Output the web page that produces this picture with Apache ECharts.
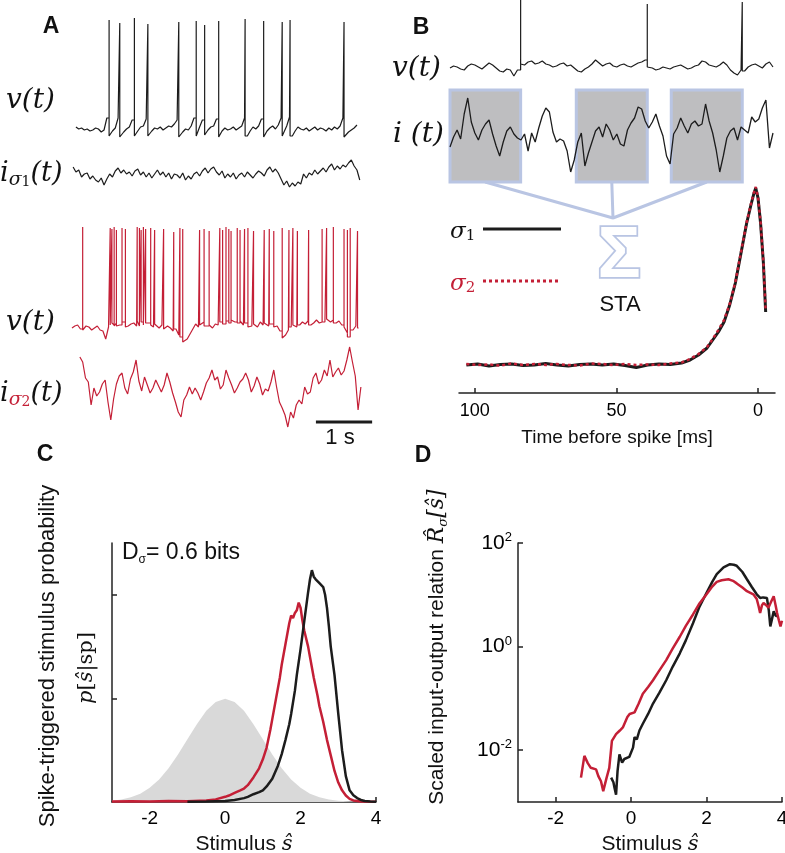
<!DOCTYPE html>
<html><head><meta charset="utf-8">
<script src="https://cdn.jsdelivr.net/npm/echarts@6/dist/echarts.min.js"></script>
<style>html,body{margin:0;padding:0;background:#fff}#c{width:785px;height:853px}</style>
</head><body><div id="c"></div>
<script>
const SANS = 'Liberation Sans, Arial, sans-serif';
const SERIF = 'DejaVu Serif, serif';
const BLACK = '#1c1c1c';
const RED = '#c41f36';
const BOXBLUE = '#b9c5e3';

// ---------- Panel A (time in s, sampled every 0.05 s) ----------
const aDt = 0.05;
const aV1Start = 0.07;
const aV1 = [
-67,-69,-68,-70,-69,-71,-70,-68,-69,-72,
-70,-58,-76,-71,-68,-58,-77,-72,-69,-67,
-60,-76,-71,-67,-66,-59,-76,-71,-68,-69,
-67,-70,-68,-66,-67,-64,-60,-77,-72,-69,
-70,-66,-58,-76,-67,-60,-75,-70,-67,-66,
-59,-77,-71,-68,-70,-69,-67,-70,-68,-66,
-58,-76,-71,-67,-69,-66,-59,-77,-71,-68,
-66,-69,-65,-58,-76,-66,-57,-76,-71,-67,
-69,-70,-68,-71,-69,-67,-70,-68,-69,-71,
-68,-70,-67,-69,-66,-58,-77,-72,-70,-68,
-65];
const aV1SpikeT = [0.66,0.85,1.11,1.35,1.90,2.21,2.36,2.61,3.08,3.41,3.74,3.88,4.84];
const aV1SpikePeak = [40,37,42,36,38,39,35,39,41,39,38,40,38];

const aI1Start = 0.02;
const aI1 = [
8,3,5,-2,1,2,-4,-1,-5,-7,-3,
-10,-4,1,-2,4,7,2,5,1,3,
-1,4,6,0,3,-2,2,-3,1,5,
0,3,-2,2,-4,1,0,-3,2,-5,
-1,-4,1,3,-1,4,7,2,6,8,
3,0,4,-3,1,-2,2,-4,0,2,
-2,3,0,-3,1,4,2,-1,5,8,
3,6,2,-4,-10,-6,-12,-8,-11,-7,
-9,1,-3,2,0,5,1,4,7,3,
8,11,5,9,6,10,8,12,15,9,
5,-5];

const aV2Start = 0;
const aV2 = [
-63,-61,-60,-64,-65,-61,-62,-65,-63,-61,
-65,-66,-74,-62,-60,-58,-61,-60,-57,-62,
-61,-59,-58,-61,-56,-57,-60,-58,-60,-62,
-59,-63,-60,-64,-61,-63,-66,-64,-70,-72,
-77,-74,-69,-64,-59,-62,-60,-57,-61,-60,
-63,-59,-60,-57,-59,-56,-58,-55,-57,-58,
-56,-60,-58,-62,-61,-59,-62,-57,-60,-58,
-61,-59,-62,-61,-66,-73,-70,-65,-62,-60,
-62,-60,-57,-59,-56,-60,-58,-55,-58,-57,
-57,-54,-57,-55,-58,-56,-60,-62,-68,-72,
-65,-61,-63];
const aV2SpikeT = [0.19,0.68,0.71,0.75,0.79,0.89,0.95,1.16,1.20,1.23,1.27,1.31,1.40,1.47,1.63,1.81,1.92,1.97,2.27,2.35,2.44,2.63,2.68,2.74,2.79,2.83,2.94,2.99,3.07,3.13,3.23,3.42,3.51,3.59,3.74,3.80,3.86,3.93,4.01,4.21,4.45,4.53,4.65,4.84,4.90,4.95,5.08];
const aV2SpikePeak = [38,37,36,38,35,37,36,38,37,35,38,36,37,35,36,33,37,36,35,36,34,37,35,38,36,34,37,35,36,37,34,35,36,34,37,36,35,37,34,35,36,37,38,36,35,37,34];

const aI2Start = 0.14;
const aI2 = [
33,28,12,8,-15,2,-6,-2,6,10,
-12,-30,-9,6,14,17,2,-4,11,18,
30,9,-1,13,5,-3,2,10,4,-2,
5,17,8,-3,-12,-22,-27,-10,-5,3,
-4,2,-3,-10,-2,7,12,20,10,13,
1,5,20,12,5,-3,2,8,11,17,
10,-2,4,13,6,-5,1,-1,8,20,
3,-12,-18,-25,-37,-22,-28,-15,-10,-14,
3,-4,-2,12,17,6,10,20,14,30,
13,18,22,15,19,30,43,28,14,-20,
3];
const scaleBar = [[4.34,-32],[5.34,-32]];   // 1 s

// ---------- Panel B (time in ms, sampled every 5 ms) ----------
const bDt = 5;
const bV = [
-48,-46,-47,-49,-50,-46,-44,-45,-47,-49,
-46,-43,-45,-48,-51,-52,-49,-50,-56,-50,
-44,-45,-42,-41,-44,-43,-41,-44,-45,-47,
-46,-44,-43,-46,-45,-48,-51,-52,-49,-47,
-44,-40,-43,-46,-44,-43,-46,-47,-45,-44,
-46,-47,-45,-43,-42,-40,-47,-48,-50,-49,
-47,-48,-49,-47,-46,-45,-47,-49,-48,-46,
-45,-41,-42,-45,-46,-47,-45,-42,-45,-50,
-53,-55,-50,-51,-47,-45,-44,-46,-48,-44,
-42,-47];
const bSpikeT = [99.5,277.9,411.7];
const bSpikePeak = [20,16,18];
const bI = [
-11,-1,6,-3,22,38,14,3,-4,6,
12,16,2,-10,-20,-6,5,9,2,-2,
-4,2,-15,3,-6,8,20,28,24,4,
-6,-3,-5,-15,-36,-24,-6,3,-30,-17,
-6,5,9,-1,12,6,-4,2,-8,-10,
6,13,18,29,27,15,8,14,22,10,
0,-20,-28,2,8,18,10,3,12,15,
10,12,32,15,3,-14,-36,-20,-2,5,
8,-4,9,6,3,19,14,17,28,36,
-12,3];
const staWindow = 100;        // ms averaged before each spike
const sumPoint = [229.6,-82]; // where the windows are summed

const staT  = [103,99,95,91,87,83,79,75,71,67,63,59,55,51,47,43,39,35,31,27,24,21,18,16,14,12,10,8,6,4,2.5,1.5,0.8,0,-0.9,-1.9,-2.7];
const staS1 = [0,1,-1,0.5,1,-0.5,0,1.5,0,-1,0.5,1,0,1,-0.5,-2.5,0,1,0.5,2,5,10,17,25,33,43,60,82,112,142,160,171,177,167,142,102,53];
const staS2 = [1,0,0.5,-0.5,1.5,0,1,0,1,0,-0.5,1.5,1,0,1,0,0.5,0,1.5,2.5,6,11,18,26,35,45,61,83,113,143,161,172,178,168,143,103,54];
const staTicks = [0,50,100];

// ---------- Panel C ----------
const stimTicks = [-2,0,2,4];
const cGray = [[-3,0.005],[-2.75,0.01],[-2.5,0.018],[-2.25,0.032],[-2,0.055],[-1.75,0.087],[-1.5,0.13],[-1.25,0.183],[-1,0.242],[-0.75,0.3],[-0.5,0.352],[-0.25,0.386],[0,0.399],[0.25,0.386],[0.5,0.352],[0.75,0.3],[1,0.242],[1.25,0.183],[1.5,0.13],[1.75,0.087],[2,0.055],[2.25,0.032],[2.5,0.018],[2.75,0.01],[3,0.005],[3.5,0.001],[4,0]];
const cRed = [[-3,0.002],[-2.5,0.003],[-2,0.002],[-1.5,0.004],[-1,0.003],[-0.5,0.006],[-0.25,0.01],[0,0.02],[0.1,0.025],[0.25,0.035],[0.4,0.045],[0.5,0.052],[0.6,0.065],[0.75,0.095],[0.9,0.13],[1,0.165],[1.1,0.21],[1.2,0.28],[1.25,0.32],[1.35,0.4],[1.45,0.48],[1.5,0.53],[1.6,0.61],[1.7,0.69],[1.75,0.72],[1.8,0.71],[1.85,0.73],[1.9,0.74],[1.95,0.77],[2.0,0.75],[2.05,0.7],[2.1,0.66],[2.2,0.6],[2.25,0.56],[2.35,0.48],[2.45,0.41],[2.5,0.37],[2.6,0.31],[2.7,0.24],[2.8,0.18],[2.9,0.12],[3.0,0.075],[3.1,0.045],[3.2,0.025],[3.3,0.012],[3.4,0.006],[3.6,0.002],[4,0.001]];
const cBlack = [[-1,0.001],[-0.5,0.002],[0,0.004],[0.25,0.008],[0.5,0.015],[0.6,0.02],[0.75,0.03],[0.9,0.038],[1,0.045],[1.1,0.06],[1.25,0.09],[1.4,0.14],[1.5,0.185],[1.6,0.24],[1.7,0.3],[1.75,0.34],[1.85,0.43],[1.9,0.49],[2.0,0.59],[2.1,0.7],[2.2,0.81],[2.25,0.86],[2.3,0.895],[2.35,0.87],[2.4,0.86],[2.5,0.845],[2.6,0.83],[2.65,0.8],[2.7,0.75],[2.75,0.68],[2.8,0.6],[2.9,0.49],[3.0,0.34],[3.1,0.2],[3.2,0.1],[3.3,0.045],[3.4,0.026],[3.5,0.015],[3.6,0.008],[3.7,0.004],[3.85,0.002],[4,0.001]];
const cYTicks = [0.4,0.8];

// ---------- Panel D (log10 of R) ----------
const dRedLog = [[-1.33,-2.53],[-1.24,-2.11],[-1.15,-2.25],[-1.07,-2.34],[-0.93,-2.37],[-0.87,-2.5],[-0.84,-2.47],[-0.8,-2.6],[-0.74,-2.79],[-0.65,-2.53],[-0.58,-2.34],[-0.51,-1.82],[-0.4,-1.69],[-0.3,-1.62],[-0.22,-1.56],[-0.1,-1.36],[-0.04,-1.3],[0.09,-1.27],[0.2,-1.1],[0.31,-0.91],[0.45,-0.78],[0.58,-0.65],[0.75,-0.46],[0.93,-0.26],[1.1,-0.04],[1.29,0.19],[1.45,0.4],[1.64,0.62],[1.8,0.82],[2.0,1.01],[2.15,1.16],[2.27,1.25],[2.4,1.28],[2.58,1.30],[2.7,1.27],[2.8,1.22],[2.95,1.14],[3.07,1.07],[3.24,1.01],[3.33,0.92],[3.38,0.78],[3.42,0.65],[3.47,0.8],[3.51,0.84],[3.58,0.8],[3.64,0.75],[3.72,0.88],[3.78,0.97],[3.83,0.8],[3.87,0.65],[3.92,0.5],[3.96,0.39],[4.0,0.5]];
const dBlackLog = [[-0.53,-2.53],[-0.47,-2.62],[-0.44,-2.73],[-0.4,-2.86],[-0.36,-2.4],[-0.31,-2.08],[-0.24,-2.24],[-0.18,-2.17],[-0.13,-2.14],[-0.05,-2.13],[0,-2.11],[0.05,-1.95],[0.09,-1.75],[0.15,-1.79],[0.22,-1.62],[0.31,-1.49],[0.45,-1.3],[0.58,-1.1],[0.75,-0.89],[0.93,-0.65],[1.1,-0.39],[1.29,-0.13],[1.45,0.12],[1.64,0.45],[1.8,0.75],[2.0,1.04],[2.15,1.25],[2.27,1.4],[2.45,1.53],[2.62,1.59],[2.72,1.58],[2.8,1.56],[2.95,1.44],[3.07,1.3],[3.2,1.15],[3.33,1.01],[3.42,0.94],[3.5,0.95],[3.6,0.94],[3.65,0.7],[3.69,0.39],[3.74,0.55],[3.78,0.68],[3.83,0.6],[3.87,0.58]];
const dYTicks = [-2,0,2];

// ---------- helpers ----------
function buildTrace(t0, dt, base, spikeT, spikePeak) {
  const out = [];
  for (let i = 0; i < base.length; i++) {
    const t = t0 + dt * i;
    out.push([t, base[i]]);
    if (spikeT && i < base.length - 1) {
      spikeT.forEach((s, j) => {
        if (s >= t && s < t + dt) out.push([s, base[i]], [s, spikePeak[j]], [s, base[i + 1]]);
      });
    }
  }
  return out;
}
function line(xi, data, color, width, extra) {
  return Object.assign({type:'line', xAxisIndex:xi, yAxisIndex:xi, data, symbol:'none', silent:true,
    lineStyle:{color, width}, itemStyle:{color}}, extra || {});
}
function hx(gi, min, max, extra) { return Object.assign({type:'value', gridIndex:gi, min, max, show:false}, extra||{}); }
const axisLineStyle = {show:true, onZero:false, lineStyle:{color:'#222', width:1.5}};
const tickLabel = {color:'#000', fontFamily:SANS, fontSize:19};

const grids = [
  {left:72, top:10, width:303.5, height:130},
  {left:72, top:150, width:303.5, height:50},
  {left:72, top:215, width:303.5, height:130},
  {left:72, top:340, width:303.5, height:100},
  {left:450, top:0, width:323, height:80},
  {left:450, top:90, width:323, height:92},
  {left:459, top:180, width:316, height:213},
  {left:112, top:543, width:264, height:259},
  {left:518, top:543, width:264, height:259}
].map(g => Object.assign({containLabel:false, outerBoundsMode:'none'}, g));

const stimName = {rich:{a:{fontSize:21, fontFamily:SANS, color:'#111'}, b:{fontSize:21, fontFamily:SERIF, fontStyle:'italic', color:'#111'}}};
const xAxes = [
  hx(0,0,5.4), hx(1,0,5.4), hx(2,0,5.4), hx(3,0,5.4),
  hx(4,0,455), hx(5,0,455),
  {type:'value', gridIndex:6, min:-6, max:105.6, inverse:true, axisLine:axisLineStyle,
   axisTick:{show:true, inside:true, length:5, customValues:staTicks, lineStyle:{color:'#222', width:1.5}},
   axisLabel:{customValues:staTicks, margin:9, fontSize:18, color:'#000', fontFamily:SANS},
   splitLine:{show:false},
   name:'Time before spike [ms]', nameLocation:'middle', nameGap:35,
   nameTextStyle:{color:'#111', fontFamily:SANS, fontSize:19}},
  {type:'value', gridIndex:7, min:-3, max:4, axisLine:axisLineStyle,
   axisTick:{show:true, inside:true, length:5, customValues:stimTicks, lineStyle:{color:'#222', width:1.5}},
   axisLabel:Object.assign({customValues:stimTicks, margin:7}, tickLabel), splitLine:{show:false},
   name:'{a|Stimulus }{b|ŝ}', nameLocation:'middle', nameGap:32, nameTextStyle:stimName},
  {type:'value', gridIndex:8, min:-3, max:4, axisLine:axisLineStyle,
   axisTick:{show:true, inside:true, length:5, customValues:stimTicks, lineStyle:{color:'#222', width:1.5}},
   axisLabel:Object.assign({customValues:stimTicks, margin:7}, tickLabel), splitLine:{show:false},
   name:'{a|Stimulus }{b|ŝ}', nameLocation:'middle', nameGap:32, nameTextStyle:stimName}
];
const yAxes = [
  hx(0,-80,50), hx(1,-25,25), hx(2,-80,50), hx(3,-50,50),
  hx(4,-60,20), hx(5,-46,46), hx(6,-28,185),
  {type:'value', gridIndex:7, min:0, max:1, axisLine:axisLineStyle,
   axisTick:{show:true, inside:true, length:5, customValues:cYTicks, lineStyle:{color:'#222', width:1.5}},
   axisLabel:{show:false}, splitLine:{show:false}},
  {type:'value', gridIndex:8, min:-3, max:2, axisLine:axisLineStyle,
   axisTick:{show:true, inside:true, length:5, customValues:dYTicks, lineStyle:{color:'#222', width:1.5}},
   axisLabel:{customValues:dYTicks, margin:6, formatter: v => '{a|10}{b|' + v + '}',
     rich:{a:{fontSize:21, lineHeight:24, fontFamily:SANS, color:'#000'},
           b:{fontSize:13, lineHeight:13, fontFamily:SANS, color:'#000', verticalAlign:'top'}}},
   splitLine:{show:false}}
];

const series = [
  line(0, buildTrace(aV1Start, aDt, aV1, aV1SpikeT, aV1SpikePeak), BLACK, 1.2),
  line(1, buildTrace(aI1Start, aDt, aI1), BLACK, 1.2),
  line(2, buildTrace(aV2Start, aDt, aV2, aV2SpikeT, aV2SpikePeak), RED, 1.2),
  line(3, buildTrace(aI2Start, aDt, aI2), RED, 1.2),
  line(3, scaleBar, BLACK, 3),
  line(4, buildTrace(0, bDt, bV, bSpikeT, bSpikePeak), BLACK, 1.2),
  line(5, buildTrace(0, bDt, bI), BLACK, 1.3, {z:3,
    markArea:{silent:true, itemStyle:{color:'#bebec0', borderColor:BOXBLUE, borderWidth:3},
      data: bSpikeT.map(s => [{coord:[s - staWindow, -46]}, {coord:[s, 46]}])}}),
  line(5, [[bSpikeT[0]-staWindow/2,-46], sumPoint, [bSpikeT[1]-staWindow/2,-46], sumPoint, [bSpikeT[2]-staWindow/2,-46]],
       BOXBLUE, 3, {clip:false, z:1}),
  line(6, staT.map((t,i)=>[t, staS1[i]]), BLACK, 3),
  line(6, staT.map((t,i)=>[t, staS2[i]]), RED, 2.5, {lineStyle:{color:RED, width:2.5, type:[3,3]}}),
  line(7, cGray, '#d9d9d9', 0, {areaStyle:{color:'#d9d9d9', opacity:1}, lineStyle:{width:0}, z:1}),
  line(7, cRed, RED, 2.5),
  line(7, cBlack, BLACK, 2.5),
  line(8, dBlackLog, BLACK, 2.5),
  line(8, dRedLog, RED, 2.5)
];

function T(x, y, text, font, fill, align, extra) {
  return Object.assign({type:'text', x, y, silent:true, style:{text, font, fill: fill || '#111',
    textAlign: align || 'left', align: align || 'left', textVerticalAlign:'middle', verticalAlign:'middle'}}, extra || {});
}
function R(x, y, text, rich, align, extra) {
  return Object.assign({type:'text', x, y, silent:true, style:{text, rich,
    textAlign: align || 'left', align: align || 'left', textVerticalAlign:'middle', verticalAlign:'middle'}}, extra || {});
}
const mathRich = (subColor) => ({
  m:{fontSize:27, lineHeight:31, fontFamily:SERIF, fontStyle:'italic', fill:'#111', color:'#111'},
  s:{fontSize:19, lineHeight:19, fontFamily:SERIF, fontStyle:'italic', fill:subColor, color:subColor, verticalAlign:'bottom'},
  n:{fontSize:14, lineHeight:14, fontFamily:SERIF, fill:subColor, color:subColor, verticalAlign:'bottom'}
});
const sigRich = (c) => ({
  m:{fontSize:23, lineHeight:24, fontFamily:SERIF, fontStyle:'italic', fill:c, color:c},
  n:{fontSize:15, lineHeight:15, fontFamily:SERIF, fill:c, color:c, verticalAlign:'bottom'}
});
const bold = 'bold 23px ' + SANS;
const mathFont = 'italic 28px ' + SERIF;

const graphics = [
  T(51, 27, 'A', bold, '#111', 'center'),
  T(421, 28, 'B', bold, '#111', 'center'),
  T(45, 455, 'C', bold, '#111', 'center'),
  T(423, 456, 'D', bold, '#111', 'center'),
  T(6, 101, 'v(t)', mathFont),
  R(0, 174, '{m|i}{s|σ}{n|1}{m|(t)}', mathRich('#111')),
  T(6, 323, 'v(t)', mathFont),
  R(0, 394, '{m|i}{s|σ}{n|2}{m|(t)}', mathRich(RED)),
  T(340, 438, '1 s', '22px ' + SANS, '#111', 'center'),
  T(392, 69, 'v(t)', mathFont),
  T(393, 135, 'i (t)', mathFont),
  R(450, 232, '{m|σ}{n|1}', sigRich('#111')),
  R(450, 284, '{m|σ}{n|2}', sigRich(RED)),
  {type:'line', silent:true, shape:{x1:483, y1:229, x2:561, y2:229}, style:{stroke:BLACK, lineWidth:3}},
  {type:'line', silent:true, shape:{x1:483, y1:281, x2:561, y2:281}, style:{stroke:RED, lineWidth:3, lineDash:[3,3]}},
  {type:'text', x:619, y:257, silent:true, style:{text:'Σ', font:'bold 72px ' + SANS, fill:'#ffffff', stroke:BOXBLUE, lineWidth:3.5,
    textAlign:'center', align:'center', textVerticalAlign:'middle', verticalAlign:'middle'}},
  T(620, 305, 'STA', '22px ' + SANS, '#111', 'center'),
  T(48, 656, 'Spike-triggered stimulus probability', '22px ' + SANS, '#111', 'center', {rotation:Math.PI/2}),
  R(87, 668, '{i|p}{u|[}{i|ŝ}{u||sp]}', {
      i:{fontSize:21, fontFamily:SERIF, fontStyle:'italic', fill:'#111', color:'#111'},
      u:{fontSize:21, fontFamily:SERIF, fill:'#111', color:'#111'}}, 'center', {rotation:Math.PI/2}),
  R(122, 553, '{a|D}{s|σ}{a|= 0.6 bits}', {
      a:{fontSize:23, lineHeight:26, fontFamily:SANS, fill:'#111', color:'#111'},
      s:{fontSize:12, lineHeight:12, fontFamily:SANS, fill:'#111', color:'#111', verticalAlign:'bottom'}}),
  R(437, 647, '{a|Scaled input-output relation }{m|R\u0302}{s|σ}{m|[ŝ]}', {
      a:{fontSize:21, lineHeight:26, fontFamily:SANS, fill:'#111', color:'#111'},
      m:{fontSize:22, lineHeight:26, fontFamily:SERIF, fontStyle:'italic', fill:'#111', color:'#111'},
      s:{fontSize:13, lineHeight:13, fontFamily:SERIF, fontStyle:'italic', fill:'#111', color:'#111', verticalAlign:'bottom'}},
      'center', {rotation:Math.PI/2})
];

const chart = echarts.init(document.getElementById('c'), null, {renderer:'canvas', width:785, height:853});
chart.setOption({
  animation:false,
  backgroundColor:'#ffffff',
  grid: grids, xAxis: xAxes, yAxis: yAxes, series,
  graphic:{elements: graphics}
});
</script></body></html>
